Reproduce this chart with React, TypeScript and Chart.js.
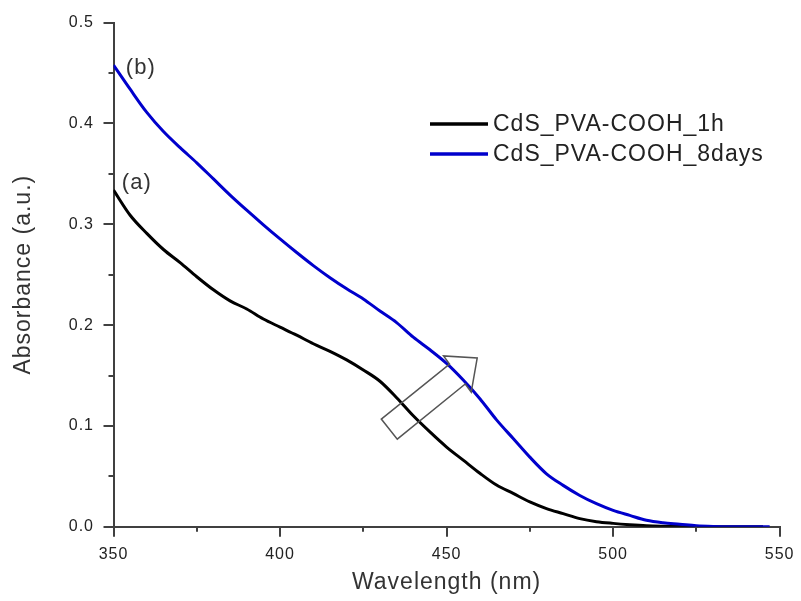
import React, { useEffect, useRef } from 'react';
import { Chart, registerables } from 'chart.js';

Chart.register(...registerables);

// ---- data ----
const wavelengthsA = [
  350, 355, 360, 365, 370, 375, 380, 385, 390, 395, 400, 405, 410, 415, 420, 425, 430, 435, 440, 445,
  450, 455, 460, 465, 470, 475, 480, 485, 490, 495, 500, 505, 510, 515, 520, 525, 530, 535, 540, 545,
];
const absorbanceA = [
  0.334, 0.309, 0.291, 0.275, 0.262, 0.248, 0.235, 0.224, 0.216, 0.206, 0.198, 0.19, 0.1815, 0.174, 0.1655,
  0.1555, 0.1443, 0.128, 0.11, 0.094, 0.079, 0.066, 0.053, 0.0413, 0.033, 0.0246, 0.018, 0.013, 0.008, 0.005,
  0.0033, 0.002, 0.001, 0.0005, 0.0002, 0, 0, 0, 0, 0,
];
const wavelengthsB = [
  350, 355, 360, 365, 370, 375, 380, 385, 390, 395, 400, 405, 410, 415, 420, 425, 430, 435, 440, 445,
  450, 455, 460, 465, 470, 475, 480, 485, 490, 495, 500, 505, 510, 515, 520, 525, 530, 535, 540, 545, 547,
];
const absorbanceB = [
  0.458, 0.434, 0.411, 0.392, 0.376, 0.361, 0.345, 0.329, 0.314, 0.2995, 0.2855, 0.272, 0.259, 0.247, 0.236,
  0.226, 0.214, 0.2025, 0.188, 0.1755, 0.162, 0.1455, 0.127, 0.106, 0.0875, 0.069, 0.0525, 0.041, 0.031,
  0.0228, 0.0162, 0.0112, 0.0064, 0.0039, 0.0025, 0.001, 0.0003, 0, 0, 0, 0,
];
const seriesLabels = ['CdS_PVA-COOH_1h', 'CdS_PVA-COOH_8days'];
const xMinorTicks = [375, 425, 475, 525];
const yMinorTicks = [0.05, 0.15, 0.25, 0.35, 0.45];
const curveTagTexts = ['(a)', '(b)'];
const curveTagX = [352.5, 353.7];
const curveTagY = [0.3415, 0.455];
// hollow arrow outline, in (wavelength, absorbance) units
const arrowX = [430.4, 450.9, 449.1, 459.2, 457.4, 455.6, 435.2];
const arrowY = [0.1068, 0.1614, 0.1694, 0.1674, 0.1336, 0.1416, 0.0868];

const FONT = 'Arial, "Liberation Sans", sans-serif';
const AXIS_COLOR = '#404040';

const decorPlugin = {
  id: 'decor',
  beforeDraw(chart: any) {
    chart.ctx.letterSpacing = '1px';
  },
  afterDraw(chart: any) {
    const ctx = chart.ctx;
    const xs = chart.scales.x;
    const ys = chart.scales.y;
    const area = chart.chartArea;
    ctx.save();
    // minor ticks
    ctx.strokeStyle = AXIS_COLOR;
    ctx.lineWidth = 2;
    ctx.beginPath();
    xMinorTicks.forEach((v) => {
      const px = Math.round(xs.getPixelForValue(v));
      ctx.moveTo(px, area.bottom);
      ctx.lineTo(px, area.bottom + 5);
    });
    yMinorTicks.forEach((v) => {
      const py = Math.round(ys.getPixelForValue(v));
      ctx.moveTo(area.left, py);
      ctx.lineTo(area.left - 5, py);
    });
    ctx.stroke();

    // arrow
    ctx.strokeStyle = '#555555';
    ctx.lineWidth = 1.5;
    ctx.lineJoin = 'miter';
    ctx.beginPath();
    arrowX.forEach((v, i) => {
      const px = xs.getPixelForValue(v);
      const py = ys.getPixelForValue(arrowY[i]);
      if (i === 0) ctx.moveTo(px, py);
      else ctx.lineTo(px, py);
    });
    ctx.closePath();
    ctx.stroke();

    // curve tags
    ctx.letterSpacing = '1px';
    ctx.font = `22px ${FONT}`;
    ctx.fillStyle = '#333333';
    ctx.textAlign = 'left';
    ctx.textBaseline = 'middle';
    curveTagTexts.forEach((t, i) => {
      ctx.fillText(t, xs.getPixelForValue(curveTagX[i]), ys.getPixelForValue(curveTagY[i]));
    });

    // legend
    const legendX0 = 430;
    const legendX1 = 488;
    const legendY0 = 124;
    const legendGap = 30;
    ctx.font = `23px ${FONT}`;
    ctx.fillStyle = '#222222';
    chart.data.datasets.forEach((ds: any, i: number) => {
      const y = legendY0 + i * legendGap;
      ctx.strokeStyle = ds.borderColor;
      ctx.lineWidth = 3.5;
      ctx.beginPath();
      ctx.moveTo(legendX0, y);
      ctx.lineTo(legendX1, y);
      ctx.stroke();
      ctx.fillText(ds.label, legendX1 + 5, y + 1);
    });
    ctx.restore();
    ctx.letterSpacing = '0px';
  },
};

export default function App() {
  const ref = useRef<HTMLCanvasElement>(null);
  useEffect(() => {
    const chart = new Chart(ref.current as HTMLCanvasElement, {
      type: 'line',
      data: {
        datasets: [
          {
            label: seriesLabels[0],
            data: wavelengthsA.map((x, i) => ({ x, y: absorbanceA[i] })),
            borderColor: '#000000',
            borderWidth: 3,
            pointRadius: 0,
            cubicInterpolationMode: 'monotone',
            order: 1,
          },
          {
            label: seriesLabels[1],
            data: wavelengthsB.map((x, i) => ({ x, y: absorbanceB[i] })),
            borderColor: '#0000cc',
            borderWidth: 3,
            pointRadius: 0,
            cubicInterpolationMode: 'monotone',
            order: 0,
          },
        ],
      },
      options: {
        animation: false,
        responsive: false,
        layout: { padding: { top: 22.7, right: 15.3, left: 0, bottom: 0 } },
        plugins: { legend: { display: false }, tooltip: { enabled: false } },
        scales: {
          x: {
            type: 'linear',
            min: 350,
            max: 550,
            ticks: {
              stepSize: 50,
              padding: 8,
              color: '#222222',
              font: { family: FONT, size: 16 },
              callback: (v: any) => String(v),
            },
            grid: { drawOnChartArea: false, tickLength: 10, color: AXIS_COLOR, lineWidth: 2 },
            border: { color: AXIS_COLOR, width: 2 },
            title: {
              display: true,
              text: 'Wavelength (nm)',
              color: '#333333',
              font: { family: FONT, size: 23 },
              padding: { top: 0, bottom: 5 },
            },
            afterFit: (s: any) => {
              s.height = 74.3;
            },
          },
          y: {
            type: 'linear',
            min: 0,
            max: 0.5,
            ticks: {
              stepSize: 0.1,
              padding: 9.5,
              color: '#222222',
              font: { family: FONT, size: 16 },
              callback: (v: any) => Number(v).toFixed(1),
            },
            grid: { drawOnChartArea: false, tickLength: 10, color: AXIS_COLOR, lineWidth: 2 },
            border: { color: AXIS_COLOR, width: 2 },
            title: {
              display: true,
              text: 'Absorbance (a.u.)',
              color: '#333333',
              font: { family: FONT, size: 23 },
              padding: { top: 10, bottom: 0 },
            },
            afterFit: (s: any) => {
              s.width = 113.5;
            },
          },
        },
      },
      plugins: [decorPlugin],
    } as any);
    return () => chart.destroy();
  }, []);
  return (
    <div style={{ position: 'fixed', left: 0, top: 0, width: 801, height: 601, background: '#ffffff' }}>
      <canvas ref={ref} width={801} height={601} style={{ display: 'block' }} />
    </div>
  );
}
